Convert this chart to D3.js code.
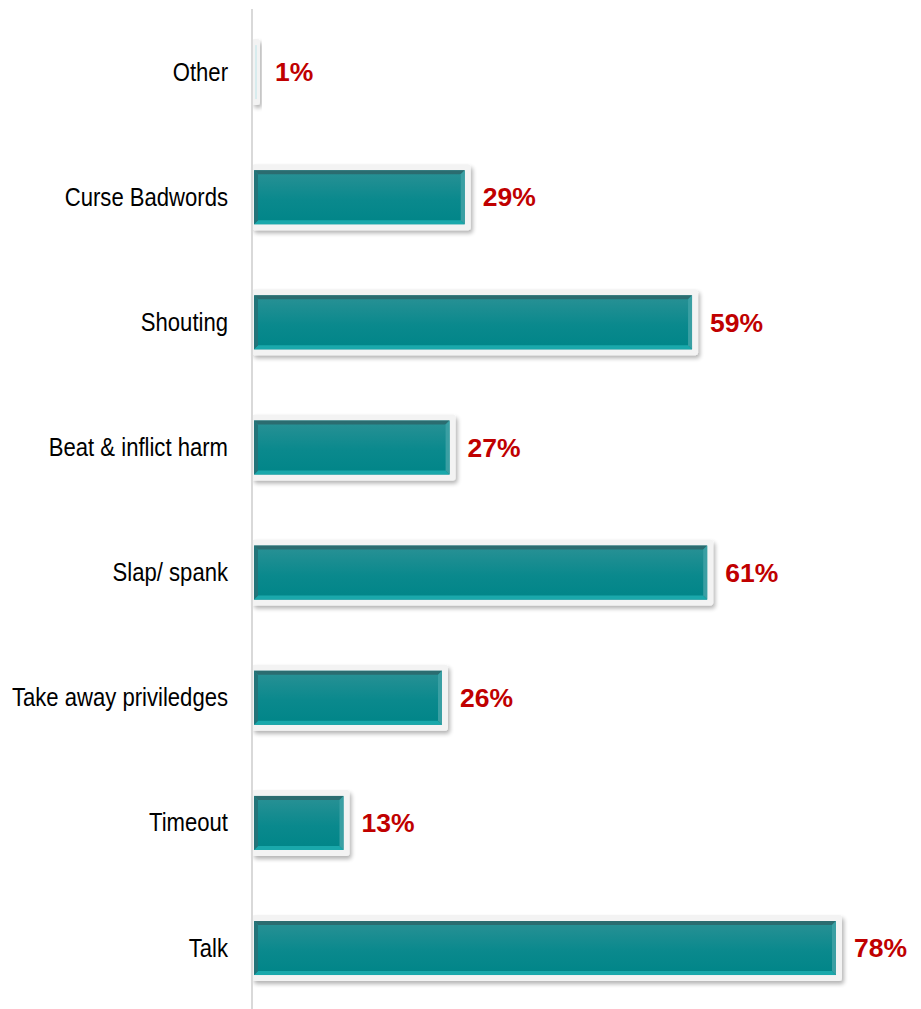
<!DOCTYPE html>
<html>
<head>
<meta charset="utf-8">
<script src="https://cdn.jsdelivr.net/npm/d3@7"></script>
<style>
  html, body { margin: 0; padding: 0; background: #fff; }
  svg { display: block; }
</style>
</head>
<body>
<svg id="chart" width="921" height="1009"></svg>
<script>
// Disciplinary methods and share of respondents (%)
const categories = ["Other", "Curse Badwords", "Shouting", "Beat & inflict harm",
                    "Slap/ spank", "Take away priviledges", "Timeout", "Talk"];
const values = [1, 29, 59, 27, 61, 26, 13, 78];
const valueLabels = ["1%", "29%", "59%", "27%", "61%", "26%", "13%", "78%"];

const W = 921, H = 1009;
const axisX = 252;
const barStart = 254;
const svg = d3.select("#chart");

const x = d3.scaleLinear().domain([0, 78]).range([245, 836]);
const y = d3.scaleBand().domain(categories).range([9.5, 1010.6]).padding(0);
const barH = 54;
const bev = 4;

const defs = svg.append("defs");
const g1 = defs.append("linearGradient").attr("id", "face").attr("x1", 0).attr("y1", 0).attr("x2", 0).attr("y2", 1);
g1.append("stop").attr("offset", "0%").attr("stop-color", "#2a9195");
g1.append("stop").attr("offset", "55%").attr("stop-color", "#0a898d");
g1.append("stop").attr("offset", "100%").attr("stop-color", "#008588");

const f = defs.append("filter").attr("id", "shadow").attr("x", "-10%").attr("y", "-30%").attr("width", "130%").attr("height", "170%");
f.append("feGaussianBlur").attr("in", "SourceAlpha").attr("stdDeviation", 2).attr("result", "b");
f.append("feOffset").attr("in", "b").attr("dx", 1.5).attr("dy", 2.5).attr("result", "o");
f.append("feComponentTransfer").attr("in", "o").attr("result", "s")
  .append("feFuncA").attr("type", "linear").attr("slope", 0.3);
const fm = f.append("feMerge");
fm.append("feMergeNode").attr("in", "s");
fm.append("feMergeNode").attr("in", "SourceGraphic");

const rows = categories.map((c, i) => ({ cat: c, v: values[i], label: valueLabels[i] }));
const x0 = () => barStart;
const x1 = d => Math.max(barStart, x(d.v));

const bars = svg.selectAll("g.bar").data(rows).enter().append("g").attr("class", "bar")
  .attr("transform", d => `translate(0,${y(d.cat) + y.bandwidth() / 2})`);

// light frame behind each bar
bars.append("rect")
  .attr("x", barStart - 2)
  .attr("y", -barH / 2 - 6)
  .attr("width", d => x1(d) - barStart + 8)
  .attr("height", barH + 12)
  .attr("rx", 3)
  .attr("fill", "#f3f3f3")
  .attr("filter", "url(#shadow)");

const solid = bars.filter(d => x1(d) - barStart > 2 * bev);

// bar face
solid.append("rect")
  .attr("x", barStart)
  .attr("y", -barH / 2)
  .attr("width", d => x1(d) - barStart)
  .attr("height", barH)
  .attr("fill", "url(#face)");

// bevel edges
function bevel(d, side) {
  const a = barStart, c = x1(d), t = -barH / 2, b2 = barH / 2, b = bev;
  if (side === "top") return [[a, t], [c, t], [c - b, t + b], [a + b, t + b]];
  if (side === "bottom") return [[a, b2], [c, b2], [c - b, b2 - b], [a + b, b2 - b]];
  if (side === "left") return [[a, t], [a + b, t + b], [a + b, b2 - b], [a, b2]];
  return [[c, t], [c - b, t + b], [c - b, b2 - b], [c, b2]];
}
const bevelColors = { top: "#2b6c70", left: "#237479", right: "#3a9fa3", bottom: "#1aa8ab" };
["top", "bottom", "left", "right"].forEach(side => {
  solid.append("path")
    .attr("d", d => d3.line()(bevel(d, side)) + "Z")
    .attr("fill", bevelColors[side]);
});

// thin pale face for bars narrower than the bevel
bars.filter(d => x1(d) - barStart <= 2 * bev).append("rect")
  .attr("x", barStart + 1).attr("y", -barH / 2)
  .attr("width", 2).attr("height", barH)
  .attr("fill", "#d8ecee");

// vertical axis line
svg.append("line")
  .attr("x1", axisX).attr("x2", axisX)
  .attr("y1", 9).attr("y2", H)
  .attr("stroke", "#d9d9d9").attr("stroke-width", 2);

// category labels
svg.selectAll("text.cat").data(rows).enter().append("text")
  .attr("class", "cat")
  .attr("transform", d => `translate(228,${y(d.cat) + y.bandwidth() / 2}) scale(0.85,1)`)
  .attr("dy", "0.33em")
  .attr("text-anchor", "end")
  .style("font-family", "'Liberation Sans', Arial, sans-serif")
  .style("font-size", "26px")
  .attr("fill", "#000")
  .text(d => d.cat);

// value labels
svg.selectAll("text.val").data(rows).enter().append("text")
  .attr("class", "val")
  .attr("x", d => x1(d) + (d.v > 2 ? 18 : 21))
  .attr("y", d => y(d.cat) + y.bandwidth() / 2)
  .attr("dy", "0.35em")
  .style("font-family", "'Liberation Sans', Arial, sans-serif")
  .style("font-size", "26.5px")
  .style("font-weight", "bold")
  .attr("fill", "#c00000")
  .text(d => d.label);
</script>
</body>
</html>
